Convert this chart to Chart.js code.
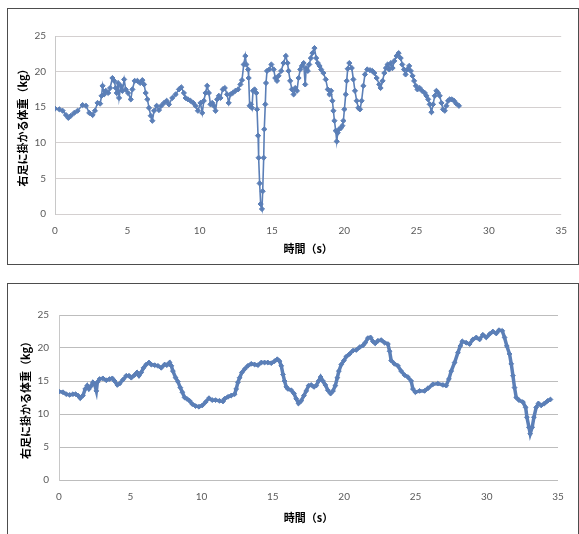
<!DOCTYPE html>
<html>
<head>
<meta charset="utf-8">
<script src="https://cdn.jsdelivr.net/npm/chart.js@4.4.0/dist/chart.umd.min.js"></script>
<style>
  body { margin: 0; background: #fff; width: 579px; height: 534px; overflow: hidden; position: relative; }
  .box { position: absolute; left: 7px; width: 570px; border: 1px solid #4d4d4d; background: #fff; }
  #box1 { top: 8px; height: 255px; }
  #box2 { top: 283px; height: 270px; }
  canvas { position: absolute; left: 0; top: 0; }
</style>
</head>
<body>
<div class="box" id="box1"><canvas id="chart1" width="570" height="255"></canvas></div>
<div class="box" id="box2"><canvas id="chart2" width="570" height="249"></canvas></div>
<script>
// top chart: time (s) / weight on right foot (kg)
const topTime = [0.00,0.30,0.53,0.76,0.92,1.10,1.33,1.56,1.91,2.14,2.37,2.60,2.76,2.94,3.12,3.22,3.29,3.40,3.51,3.68,
  3.81,3.97,4.09,4.20,4.27,4.36,4.43,4.55,4.66,4.78,4.89,5.05,5.24,5.35,5.51,5.70,5.88,6.04,6.16,6.27,
  6.39,6.50,6.62,6.73,6.85,7.03,7.19,7.35,7.54,7.72,7.88,8.11,8.34,8.57,8.73,8.91,9.03,9.19,9.37,9.56,
  9.72,9.88,10.06,10.18,10.29,10.41,10.52,10.64,10.75,10.87,10.98,11.10,11.21,11.33,11.44,11.60,11.74,11.90,12.01,12.13,
  12.29,12.47,12.66,12.82,12.93,13.05,13.16,13.23,13.35,13.39,13.46,13.55,13.62,13.69,13.80,13.92,13.97,14.04,14.08,14.15,
  14.22,14.31,14.36,14.43,14.47,14.54,14.59,14.66,14.82,14.96,15.12,15.23,15.35,15.46,15.64,15.80,15.96,16.08,16.15,16.26,
  16.38,16.50,16.61,16.73,16.84,16.96,17.07,17.19,17.30,17.37,17.48,17.58,17.69,17.80,17.94,18.06,18.17,18.29,18.40,18.56,
  18.72,18.86,18.98,19.09,19.18,19.25,19.32,19.41,19.48,19.55,19.64,19.78,19.87,19.94,20.01,20.10,20.17,20.24,20.35,20.52,
  20.63,20.74,20.86,20.97,21.09,21.20,21.32,21.43,21.59,21.78,21.94,22.08,22.24,22.42,22.51,22.65,22.77,22.88,23.00,23.11,
  23.23,23.34,23.46,23.62,23.76,23.90,24.01,24.13,24.24,24.37,24.49,24.60,24.72,24.83,24.95,25.06,25.22,25.38,25.57,25.68,
  25.80,25.91,26.03,26.14,26.26,26.37,26.49,26.60,26.72,26.83,26.95,27.06,27.18,27.29,27.45,27.59,27.75,27.93];
const topWeight = [14.8,14.7,14.5,13.9,13.5,13.8,14.2,14.5,15.3,15.2,14.2,13.9,14.5,15.6,15.5,16.6,18.0,16.8,17.3,17.0,
  17.7,19.1,18.7,17.7,17.0,18.4,16.3,18.0,17.3,18.9,17.5,17.0,16.1,17.5,18.7,18.7,18.4,18.8,18.2,17.0,
  16.1,14.9,13.8,13.1,14.5,15.2,14.6,15.2,15.6,15.9,15.4,16.3,16.8,17.5,17.8,17.0,16.3,16.1,15.9,15.6,
  15.2,14.5,15.6,14.2,15.9,17.0,18.0,17.0,15.4,15.6,15.2,14.5,16.1,16.6,16.3,17.5,17.7,16.8,15.6,16.8,
  17.0,17.3,17.5,18.2,18.8,21.0,22.2,21.0,20.3,19.1,15.2,15.4,14.9,17.3,17.5,17.0,14.7,11.0,7.9,4.3,
  1.4,0.7,3.2,7.9,11.9,15.4,18.4,20.1,20.3,21.0,20.3,19.1,18.7,19.4,20.1,21.2,22.2,21.2,20.1,18.7,
  17.5,16.8,17.7,17.3,19.1,20.3,20.8,21.2,18.2,20.5,20.1,21.0,21.9,22.6,23.3,21.9,21.2,20.8,20.3,19.8,
  18.9,17.5,16.8,17.3,15.9,14.5,13.1,11.7,10.2,11.4,11.9,12.1,12.4,13.1,14.7,16.8,18.7,20.4,21.2,20.5,
  18.9,17.3,15.9,14.9,14.7,15.9,18.0,19.6,20.3,20.2,20.1,19.8,19.1,18.2,17.7,18.7,19.8,20.5,21.0,20.3,
  21.2,20.5,21.5,22.2,22.6,21.9,21.0,20.3,19.6,20.3,20.8,20.1,19.4,18.7,18.0,17.5,17.7,17.3,17.0,16.6,
  16.1,15.4,14.3,15.4,16.6,17.3,17.0,16.6,15.6,14.7,14.5,15.2,15.9,16.1,16.1,15.9,15.5,15.2];

// bottom chart
const bottomTime = [0.00,0.28,0.51,0.75,0.98,1.17,1.33,1.49,1.68,1.84,1.98,2.10,2.27,2.38,2.50,2.62,2.69,2.85,3.08,3.32,
  3.55,3.74,3.90,4.09,4.25,4.49,4.72,4.91,5.07,5.30,5.47,5.61,5.77,5.93,6.12,6.31,6.47,6.71,6.94,7.17,
  7.41,7.57,7.76,7.88,7.99,8.18,8.34,8.51,8.65,8.81,8.97,9.16,9.35,9.58,9.82,10.05,10.28,10.52,10.75,10.98,
  11.26,11.50,11.61,11.85,12.08,12.32,12.43,12.55,12.67,12.83,13.02,13.25,13.48,13.72,13.95,14.19,14.42,14.65,14.89,15.12,
  15.31,15.47,15.59,15.71,15.82,15.94,16.06,16.29,16.48,16.64,16.80,16.99,17.18,17.34,17.51,17.69,17.88,18.04,18.21,18.35,
  18.51,18.68,18.86,19.05,19.22,19.38,19.52,19.63,19.80,19.98,20.15,20.38,20.62,20.85,21.08,21.32,21.48,21.67,21.85,22.02,
  22.18,22.37,22.60,22.84,23.07,23.19,23.30,23.53,23.77,24.00,24.24,24.47,24.70,24.82,25.00,25.29,25.64,25.88,26.22,26.57,
  26.93,27.16,27.35,27.51,27.75,27.98,28.15,28.29,28.56,28.80,29.03,29.27,29.50,29.73,29.97,30.20,30.43,30.67,30.86,31.09,
  31.25,31.41,31.60,31.72,31.84,31.95,32.07,32.26,32.54,32.73,32.82,32.96,33.05,33.19,33.31,33.47,33.63,33.82,34.05,34.28,
  34.47];
const bottomWeight = [13.4,13.3,13.0,12.9,13.0,13.0,12.8,12.4,12.8,13.8,14.3,13.8,14.3,14.8,14.5,13.5,14.8,15.3,15.4,15.1,
  15.3,15.4,15.0,14.4,14.6,15.2,15.8,15.8,15.5,15.9,16.3,15.8,16.3,17.0,17.5,17.8,17.5,17.4,17.3,17.0,
  17.5,17.4,17.8,17.3,16.5,15.5,14.9,14.0,13.3,12.5,12.3,12.0,11.5,11.2,11.1,11.3,11.8,12.4,12.1,12.1,
  12.0,11.9,12.3,12.6,12.8,13.0,13.8,14.8,15.5,16.3,16.8,17.3,17.6,17.5,17.4,17.8,17.8,17.8,17.7,18.0,
  18.3,18.0,17.3,16.0,15.0,14.1,13.8,13.6,13.1,12.3,11.6,12.0,12.8,13.5,14.3,14.4,14.1,14.3,15.0,15.6,
  15.0,14.4,13.6,13.1,13.5,14.3,15.5,16.5,17.5,18.1,18.7,19.1,19.6,19.7,20.1,20.4,20.8,21.5,21.6,21.0,
  20.7,21.1,21.2,20.8,20.6,19.5,18.1,17.6,17.3,16.5,15.9,15.6,15.0,13.8,13.3,13.5,13.5,13.9,14.5,14.6,
  14.4,14.3,15.3,16.5,17.8,19.3,20.3,21.0,20.8,20.6,21.3,21.6,21.3,22.0,21.6,22.1,22.5,22.2,22.7,22.6,
  21.6,20.3,19.1,17.6,15.8,14.0,12.5,12.1,11.8,11.0,9.5,8.0,7.0,8.0,9.5,11.0,11.6,11.3,11.6,12.0,
  12.2];

const xTicks = [0, 5, 10, 15, 20, 25, 30, 35];
const yTicks = [0, 5, 10, 15, 20, 25];
const xTitle = '時間（s）';
const yTitle = '右足に掛かる体重（kg）';

const lineColor = '#5b7fb7';
const tickFont = { family: 'Lato, "Liberation Sans", sans-serif', size: 10 };
const titleFont = { family: '"Noto Sans CJK JP", sans-serif', size: 11, weight: 'bold' };

function makeChart(id, times, weights, s) {
  const points = times.map((t, i) => ({ x: t, y: weights[i] }));
  return new Chart(document.getElementById(id), {
    type: 'line',
    data: {
      datasets: [{
        data: points,
        borderColor: lineColor,
        backgroundColor: lineColor,
        borderWidth: s.lineWidth,
        pointStyle: 'rectRot',
        pointRadius: s.pointRadius,
        pointBorderWidth: 1,
        tension: 0
      }]
    },
    options: {
      responsive: false,
      animation: false,
      devicePixelRatio: 1,
      layout: { padding: { left: 0, top: s.padTop, right: s.padRight, bottom: 0 } },
      plugins: { legend: { display: false }, tooltip: { enabled: false } },
      scales: {
        x: {
          type: 'linear',
          min: xTicks[0],
          max: xTicks[xTicks.length - 1],
          afterBuildTicks: sc => { sc.ticks = xTicks.map(v => ({ value: v })); },
          afterFit: sc => { sc.height = s.xHeight; },
          grid: { display: false, drawTicks: false },
          border: { display: false },
          ticks: { font: tickFont, color: '#595959', padding: s.xPad, maxRotation: 0 },
          title: { display: true, text: xTitle, font: titleFont, color: '#000', padding: { top: 0, bottom: s.xTitlePad } }
        },
        y: {
          min: yTicks[0],
          max: yTicks[yTicks.length - 1],
          afterBuildTicks: sc => { sc.ticks = yTicks.map(v => ({ value: v })); },
          afterFit: sc => { sc.width = s.yWidth; },
          grid: { color: s.gridColor, lineWidth: 1, drawTicks: false },
          border: { display: true, color: '#c8c8c8' },
          ticks: { font: tickFont, color: '#595959', padding: s.yPad },
          title: { display: true, text: yTitle, font: titleFont, color: '#000', padding: { top: s.yTitlePad, bottom: 0 } }
        }
      }
    }
  });
}

makeChart('chart1', topTime, topWeight, {
  lineWidth: 1.6, pointRadius: 2.6, padTop: 27, padRight: 15,
  xHeight: 50, xPad: 11, xTitlePad: 9, yWidth: 47, yPad: 9, yTitlePad: 8, gridColor: '#d4d0d0'
});
makeChart('chart2', bottomTime, bottomWeight, {
  lineWidth: 3.5, pointRadius: 2.4, padTop: 31, padRight: 20,
  xHeight: 53, xPad: 11, xTitlePad: 9, yWidth: 51, yPad: 10, yTitlePad: 11, gridColor: '#bdbdbd'
});
</script>
</body>
</html>
